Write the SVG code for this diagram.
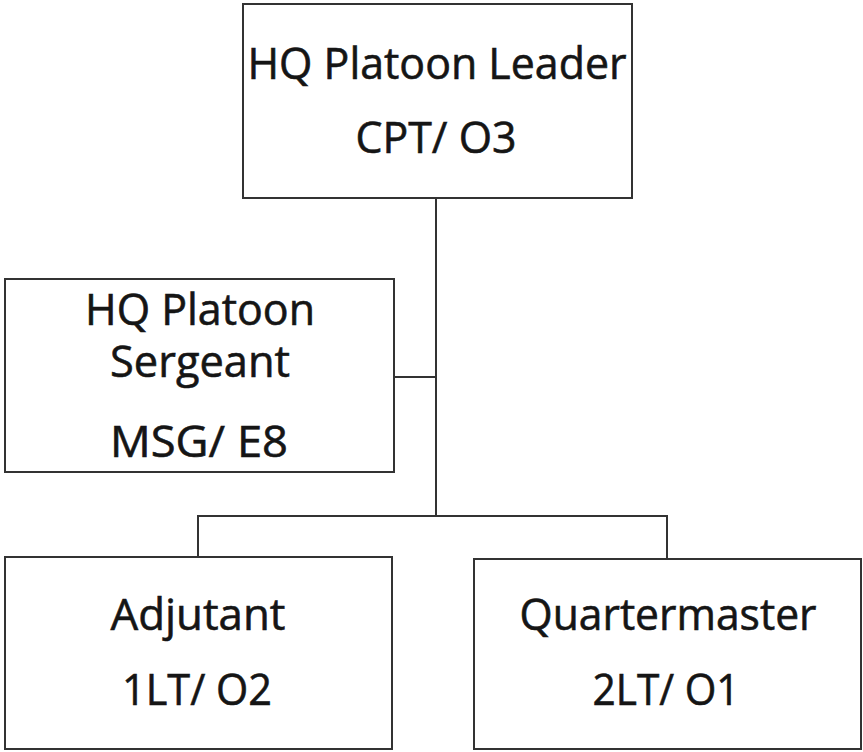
<svg xmlns="http://www.w3.org/2000/svg" width="863" height="752" viewBox="0 0 863 752">
<style>
.box{fill:#fff;stroke:#333;stroke-width:2}
.ln{fill:none;stroke:#333;stroke-width:2}
text{font-family:"Open Sans","Noto Sans","Liberation Sans",sans-serif;font-size:44px;fill:#151515;stroke:#151515;stroke-width:0.6;text-anchor:middle}
</style>
<rect width="863" height="752" fill="#fff"/>
<g id="connectors">
<path class="ln" d="M436 198 V516"/>
<path class="ln" d="M394 377 H436"/>
<path class="ln" d="M198 557 V516 H667 V559"/>
</g>
<g id="leader">
<rect class="box" x="243" y="4" width="389" height="194"/>
<text x="437" y="79" textLength="379" lengthAdjust="spacingAndGlyphs">HQ Platoon Leader</text>
<text x="436" y="153" textLength="161" lengthAdjust="spacingAndGlyphs">CPT/ O3</text>
</g>
<g id="sergeant">
<rect class="box" x="5" y="279" width="389" height="193"/>
<text x="200" y="325" textLength="230" lengthAdjust="spacingAndGlyphs">HQ Platoon</text>
<text x="200" y="377" textLength="180" lengthAdjust="spacingAndGlyphs">Sergeant</text>
<text x="199" y="457" textLength="178" lengthAdjust="spacingAndGlyphs">MSG/ E8</text>
</g>
<g id="adjutant">
<rect class="box" x="5" y="557" width="387" height="192"/>
<text x="198" y="630" textLength="175" lengthAdjust="spacingAndGlyphs">Adjutant</text>
<text x="197" y="705" textLength="150" lengthAdjust="spacingAndGlyphs">1LT/ O2</text>
</g>
<g id="quartermaster">
<rect class="box" x="474" y="559" width="387" height="190"/>
<text x="668" y="630" textLength="297" lengthAdjust="spacingAndGlyphs">Quartermaster</text>
<text x="666" y="705" textLength="147" lengthAdjust="spacingAndGlyphs">2LT/ O1</text>
</g>
</svg>
